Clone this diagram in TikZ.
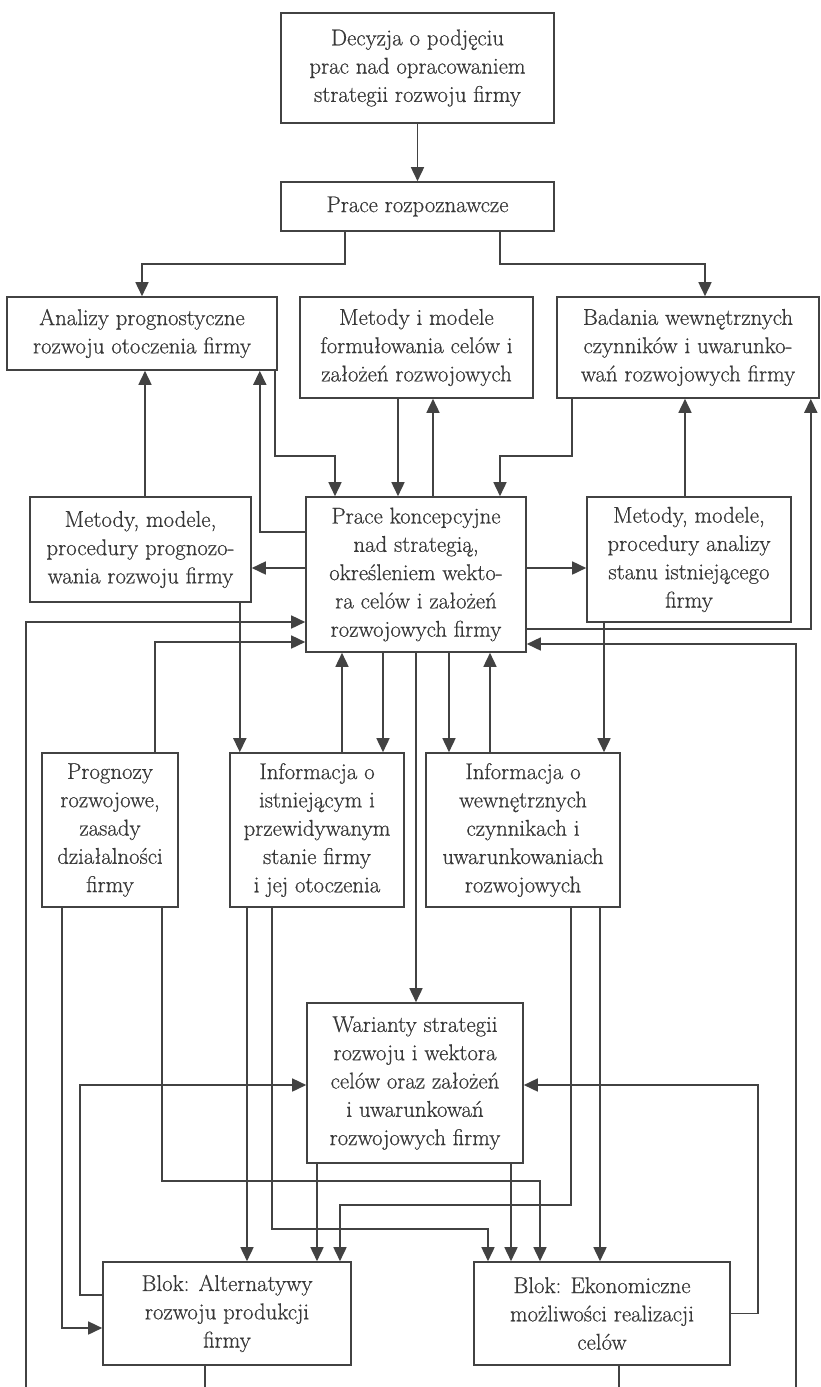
\documentclass[tikz,border=0pt]{standalone}
\usepackage{fontspec}
\setmainfont{Latin Modern Roman}[FakeBold=0.6]
\usepackage{tikz}
\usetikzlibrary{arrows.meta}

\definecolor{linia}{RGB}{66,66,66}
\tikzset{
  blok/.style={draw=linia, line width=1.6pt, align=center, inner sep=0pt, text=linia!85!black},
  strz/.style={draw=linia, line width=1.6pt, -{Triangle[length=14pt, width=13pt]}},
  linka/.style={draw=linia, line width=1.6pt},
}

\begin{document}
\begin{tikzpicture}[x=1pt, y=1pt, font=\fontsize{22.8}{28.3}\selectfont]
	\useasboundingbox (0,0) rectangle (821,-1387);

	% bloki
	\node[blok, minimum width=273pt, minimum height=110pt] (decyzja) at (417.5,-68) {Decyzja o podjęciu\\prac nad opracowaniem\\strategii rozwoju firmy};
	\node[blok, minimum width=273pt, minimum height=49pt] (rozp) at (417.5,-206.5) {Prace rozpoznawcze};
	\node[blok, minimum width=270pt, minimum height=73pt] (analizy) at (142,-333.5) {Analizy prognostyczne\\rozwoju otoczenia firmy};
	\node[blok, minimum width=233pt, minimum height=101pt] (metcel) at (416.5,-347.5) {Metody i modele\\formułowania celów i\\założeń rozwojowych};
	\node[blok, minimum width=262pt, minimum height=101pt] (badania) at (688,-347.5) {Badania wewnętrznych\\czynników i uwarunko-\\wań rozwojowych firmy};
	\node[blok, minimum width=221pt, minimum height=105pt] (metprog) at (140.5,-549.5) {Metody, modele,\\procedury prognozo-\\wania rozwoju firmy};
	\node[blok, minimum width=220pt, minimum height=155pt] (koncep) at (416,-574.5) {Prace koncepcyjne\\nad strategią,\\określeniem wekto-\\ra celów i założeń\\rozwojowych firmy};
	\node[blok, minimum width=204pt, minimum height=125pt] (metanal) at (689,-559.5) {Metody, modele,\\procedury analizy\\stanu istniejącego\\firmy};
	\node[blok, minimum width=136pt, minimum height=154pt] (prognozy) at (110,-830) {Prognozy\\rozwojowe,\\zasady\\działalności\\firmy};
	\node[blok, minimum width=174pt, minimum height=154pt] (infoist) at (317,-830) {Informacja o\\istniejącym i\\przewidywanym\\stanie firmy\\i jej otoczenia};
	\node[blok, minimum width=194pt, minimum height=154pt] (infowew) at (523,-830) {Informacja o\\wewnętrznych\\czynnikach i\\uwarunkowaniach\\rozwojowych};
	\node[blok, minimum width=216pt, minimum height=160pt] (warianty) at (415,-1083) {Warianty strategii\\rozwoju i wektora\\celów oraz założeń\\i uwarunkowań\\rozwojowych firmy};
	\node[blok, minimum width=248pt, minimum height=103pt] (alter) at (227,-1313.5) {Blok: Alternatywy\\rozwoju produkcji\\firmy};
	\node[blok, minimum width=256pt, minimum height=103pt] (ekon) at (602,-1313.5) {Blok: Ekonomiczne\\możliwości realizacji\\celów};

	% wejscia spoza rysunku
	\coordinate (lewy) at (26,-1387);
	\coordinate (prawy) at (796,-1387);

	% gora
	\draw[strz] (decyzja) -- (rozp);
	\draw[strz] ([xshift=-72.5pt]rozp.south) -- ++(0,-32) -| (analizy.north);
	\draw[strz] ([xshift=82.5pt]rozp.south) -- ++(0,-32) -| ([xshift=17pt]badania.north);

	% wokol prac koncepcyjnych
	\draw[strz] ([xshift=4.5pt]metprog.north) -- ([xshift=4.5pt]metprog.north |- analizy.south);
	\draw[strz] ([yshift=42.5pt]koncep.west) -| ([xshift=-18pt]analizy.south east);
	\draw[strz] ([xshift=-3pt]analizy.south east) |- ([xshift=-81pt,yshift=40pt]koncep.north) -- ([xshift=-81pt]koncep.north);
	\draw[strz] ([xshift=-18.5pt]metcel.south) -- ([xshift=-18.5pt]metcel.south |- koncep.north);
	\draw[strz] ([xshift=17pt]koncep.north) -- ([xshift=17pt]koncep.north |- metcel.south);
	\draw[strz] ([xshift=-116pt]badania.south) |- ([xshift=84pt,yshift=40pt]koncep.north) -- ([xshift=84pt]koncep.north);
	\draw[strz] ([xshift=-4pt]metanal.north) -- ([xshift=-4pt]metanal.north |- badania.south);
	\draw[strz] ([yshift=6.5pt]koncep.west) -- ([yshift=6.5pt]koncep.west -| metprog.east);
	\draw[strz] ([yshift=6.5pt]koncep.east) -- ([yshift=6.5pt]koncep.east -| metanal.west);
	\draw[strz] ([yshift=-54.5pt]koncep.east) -| ([xshift=-9pt]badania.south east);
	\draw[strz] (lewy) |- ([yshift=-47.5pt]koncep.west);
	\draw[strz] ([xshift=45pt]prognozy.north) |- ([yshift=-67.5pt]koncep.west);
	\draw[strz] (prawy) |- ([yshift=-69.5pt]koncep.east);

	% informacje
	\draw[strz] ([xshift=-12pt]metprog.south east) -- ([xshift=-12pt]metprog.south east |- infoist.north);
	\draw[strz] ([xshift=25pt]infoist.north) -- ([xshift=25pt]infoist.north |- koncep.south);
	\draw[strz] ([xshift=-33pt]koncep.south) -- ([xshift=-33pt]koncep.south |- infoist.north);
	\draw[strz] (koncep.south) -- (koncep.south |- warianty.north);
	\draw[strz] ([xshift=33pt]koncep.south) -- ([xshift=33pt]koncep.south |- infowew.north);
	\draw[strz] ([xshift=-33pt]infowew.north) -- ([xshift=-33pt]infowew.north |- koncep.south);
	\draw[strz] ([xshift=-85pt]metanal.south) -- ([xshift=-85pt]metanal.south |- infowew.north);

	% dol
	\draw[strz] ([xshift=-48pt]prognozy.south) |- ([yshift=-14.5pt]alter.west);
	\draw[strz] ([xshift=52pt]prognozy.south) |- ([xshift=-62pt,yshift=80pt]ekon.north) -- ([xshift=-62pt]ekon.north);
	\draw[strz] ([xshift=-70pt]infoist.south) -- ([xshift=-70pt]infoist.south |- alter.north);
	\draw[strz] ([xshift=-45pt]infoist.south) |- ([xshift=-114pt,yshift=32pt]ekon.north) -- ([xshift=-114pt]ekon.north);
	\draw[strz] ([xshift=-98pt]warianty.south) -- ([xshift=-98pt]warianty.south |- alter.north);
	\draw[strz] ([xshift=96pt]warianty.south) -- ([xshift=96pt]warianty.south |- ekon.north);
	\draw[strz] ([xshift=48pt]infowew.south) |- ([xshift=113pt,yshift=56pt]alter.north) -- ([xshift=113pt]alter.north);
	\draw[strz] ([xshift=77pt]infowew.south) -- ([xshift=77pt]infowew.south |- ekon.north);
	\draw[strz] ([yshift=18.5pt]alter.west) -- ++(-22,0) |- ([yshift=-2pt]warianty.west);
	\draw[strz] (ekon.east) -- ++(27,0) |- ([yshift=-2pt]warianty.east);
	\draw[linka] ([xshift=-22pt]alter.south) -- ([xshift=-22pt]alter.south |- lewy);
	\draw[linka] ([xshift=17pt]ekon.south) -- ([xshift=17pt]ekon.south |- prawy);
\end{tikzpicture}
\end{document}
